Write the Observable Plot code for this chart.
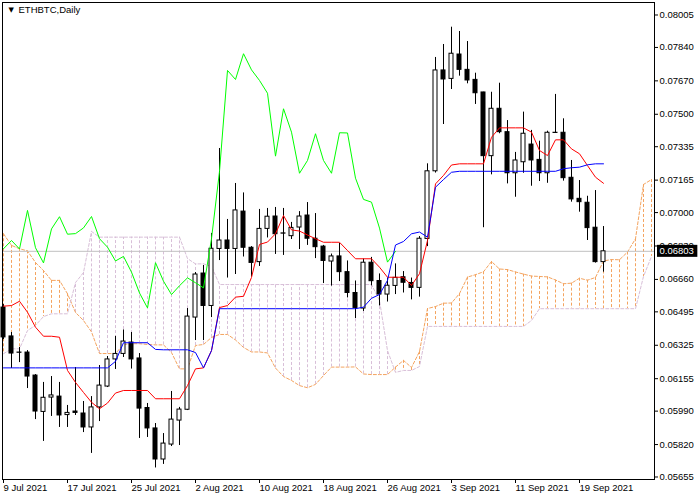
<!DOCTYPE html>
<html>
<head>
<meta charset="utf-8">
<script src="https://cdn.jsdelivr.net/npm/d3@7"></script>
<script src="https://cdn.jsdelivr.net/npm/@observablehq/plot@0.6"></script>
<style>
  html, body { margin: 0; padding: 0; background: #ffffff; }
  #chart { width: 700px; height: 500px; }
</style>
</head>
<body>
<div id="chart"></div>
<script>
// ETHBTC daily candles, 9 Jul 2021 .. 22 Sep 2021 (bar index 0..75)
const opens = [0.06517,0.06370,0.06288,0.06288,0.06171,0.05986,0.06059,0.06064,0.05970,0.05988,
  0.05978,0.05907,0.06009,0.06115,0.06253,0.06281,0.06339,0.06258,0.06006,0.05902,
  0.05744,0.05820,0.05942,0.05997,0.06466,0.06690,0.06525,0.06815,0.06858,0.06815,
  0.07005,0.06821,0.06748,0.06917,0.06980,0.06894,0.06880,0.06924,0.06985,0.06867,
  0.06827,0.06751,0.06777,0.06697,0.06591,0.06512,0.06745,0.06652,0.06583,0.06627,
  0.06671,0.06642,0.06617,0.06866,0.07210,0.07723,0.07680,0.07804,0.07726,0.07675,
  0.07611,0.07287,0.07528,0.07409,0.07200,0.07256,0.07346,0.07268,0.07200,0.07406,
  0.07406,0.07177,0.07070,0.07050,0.06923,0.06748];
const highs = [0.06532,0.06390,0.06314,0.06298,0.06176,0.06136,0.06166,0.06136,0.06019,0.06212,
  0.06039,0.06064,0.06222,0.06268,0.06370,0.06403,0.06390,0.06283,0.06029,0.05927,
  0.05876,0.06090,0.06009,0.06512,0.06695,0.06731,0.06894,0.07326,0.06965,0.07148,
  0.07100,0.06827,0.07016,0.07021,0.07026,0.07021,0.06950,0.07005,0.07051,0.06995,
  0.06833,0.06789,0.06843,0.06754,0.06652,0.06764,0.06772,0.06688,0.06667,0.06739,
  0.06700,0.06667,0.06878,0.07248,0.07789,0.07855,0.07943,0.07921,0.07870,0.07709,
  0.07612,0.07612,0.07658,0.07468,0.07306,0.07511,0.07418,0.07363,0.07414,0.07601,
  0.07477,0.07265,0.07163,0.07083,0.07112,0.06929];
const lows = [0.06354,0.06207,0.06237,0.06105,0.05947,0.05836,0.05963,0.05907,0.05907,0.05968,
  0.05881,0.05775,0.05937,0.06110,0.06202,0.06263,0.06204,0.05851,0.05856,0.05701,
  0.05719,0.05810,0.05815,0.05993,0.06349,0.06349,0.06466,0.06756,0.06667,0.06685,
  0.06774,0.06672,0.06726,0.06871,0.06787,0.06782,0.06863,0.06812,0.06833,0.06766,
  0.06639,0.06626,0.06649,0.06566,0.06461,0.06497,0.06627,0.06525,0.06545,0.06583,
  0.06591,0.06556,0.06570,0.06827,0.07201,0.07448,0.07626,0.07694,0.07655,0.07550,
  0.06923,0.07192,0.07401,0.07146,0.07078,0.07200,0.07134,0.07158,0.07149,0.07403,
  0.07160,0.07053,0.07002,0.06858,0.06743,0.06697];
const closes = [0.06365,0.06283,0.06287,0.06166,0.05988,0.06058,0.06070,0.05968,0.05981,0.05981,
  0.05907,0.06009,0.06120,0.06253,0.06281,0.06344,0.06253,0.06003,0.05902,0.05744,
  0.05825,0.05947,0.05998,0.06471,0.06685,0.06525,0.06816,0.06858,0.06815,0.07011,
  0.06821,0.06744,0.06917,0.06979,0.06890,0.06893,0.06922,0.06980,0.06867,0.06824,
  0.06754,0.06777,0.06697,0.06591,0.06515,0.06745,0.06651,0.06583,0.06628,0.06668,
  0.06643,0.06617,0.06867,0.07210,0.07723,0.07677,0.07808,0.07726,0.07672,0.07607,
  0.07287,0.07528,0.07409,0.07200,0.07265,0.07401,0.07265,0.07200,0.07406,0.07405,
  0.07175,0.07067,0.07053,0.06921,0.06748,0.06803];

// Ichimoku lines
const tenkan = [0.06524,0.06527,0.06549,0.06493,0.06417,0.06371,0.06371,0.06366,0.06197,0.06136,
  0.06085,0.06035,0.06002,0.06031,0.06082,0.06095,0.06095,0.06095,0.06095,0.06053,
  0.06053,0.06053,0.06053,0.06120,0.06205,0.06210,0.06298,0.06517,0.06527,0.06570,
  0.06574,0.06670,0.06838,0.06850,0.06892,0.06985,0.06912,0.06906,0.06886,0.06867,
  0.06849,0.06849,0.06849,0.06807,0.06765,0.06765,0.06765,0.06722,0.06671,0.06671,
  0.06671,0.06629,0.06689,0.06858,0.07146,0.07189,0.07242,0.07248,0.07248,0.07248,
  0.07248,0.07383,0.07431,0.07431,0.07431,0.07431,0.07409,0.07316,0.07290,0.07370,
  0.07370,0.07324,0.07299,0.07239,0.07180,0.07149];
const kijun = [0.06210,0.06210,0.06210,0.06210,0.06210,0.06210,0.06210,0.06210,0.06210,0.06210,
  0.06210,0.06210,0.06210,0.06210,0.06243,0.06338,0.06338,0.06338,0.06338,0.06304,
  0.06302,0.06302,0.06302,0.06302,0.06288,0.06210,0.06298,0.06511,0.06511,0.06511,
  0.06511,0.06511,0.06511,0.06511,0.06511,0.06511,0.06511,0.06511,0.06511,0.06511,
  0.06511,0.06511,0.06511,0.06511,0.06511,0.06519,0.06564,0.06583,0.06655,0.06835,
  0.06853,0.06892,0.06901,0.06875,0.07129,0.07168,0.07205,0.07210,0.07210,0.07210,
  0.07210,0.07210,0.07210,0.07210,0.07210,0.07210,0.07210,0.07210,0.07210,0.07210,
  0.07223,0.07228,0.07231,0.07243,0.07248,0.07248];
const senkouA = [0.06892,0.06833,0.06816,0.06805,0.06746,0.06705,0.06655,0.06655,0.06587,0.06492,
  0.06451,0.06393,0.06283,0.06283,0.06283,0.06329,0.06333,0.06333,0.06329,0.06327,
  0.06327,0.06288,0.06205,0.06205,0.06324,0.06329,0.06365,0.06380,0.06380,0.06352,
  0.06314,0.06291,0.06291,0.06286,0.06209,0.06166,0.06146,0.06120,0.06109,0.06126,
  0.06171,0.06214,0.06214,0.06214,0.06215,0.06179,0.06176,0.06176,0.06176,0.06214,
  0.06248,0.06212,0.06293,0.06512,0.06522,0.06539,0.06540,0.06588,0.06672,0.06684,
  0.06699,0.06751,0.06713,0.06710,0.06698,0.06687,0.06677,0.06675,0.06673,0.06657,
  0.06638,0.06641,0.06666,0.06656,0.06670,0.06754,0.06761,0.06760,0.06799,0.06867,
  0.07143,0.07168];
const senkouB = [0.06282,0.06307,0.06307,0.06400,0.06426,0.06471,0.06485,0.06485,0.06485,0.06644,
  0.06695,0.06904,0.06875,0.06875,0.06875,0.06875,0.06875,0.06875,0.06875,0.06875,
  0.06875,0.06875,0.06875,0.06766,0.06739,0.06739,0.06726,0.06634,0.06634,0.06634,
  0.06634,0.06634,0.06634,0.06634,0.06634,0.06634,0.06634,0.06634,0.06634,0.06634,
  0.06634,0.06634,0.06634,0.06634,0.06634,0.06634,0.06634,0.06553,0.06298,0.06187,
  0.06197,0.06197,0.06217,0.06421,0.06421,0.06421,0.06421,0.06421,0.06421,0.06421,
  0.06421,0.06421,0.06421,0.06421,0.06421,0.06421,0.06451,0.06511,0.06511,0.06511,
  0.06511,0.06511,0.06511,0.06511,0.06511,0.06511,0.06511,0.06511,0.06511,0.06511,
  0.06675,0.06777];

const chikouShift = 26;
const lastPrice = 0.06803;

// Axis ticks
const yTicks = [0.08005,0.07840,0.07670,0.07500,0.07335,0.07165,0.07000,0.06830,
  0.06660,0.06495,0.06325,0.06155,0.05990,0.05820,0.05655];
const xTickBars = [0, 8, 16, 24, 32, 40, 48, 56, 64, 72];
const xTickLabels = ["9 Jul 2021","17 Jul 2021","25 Jul 2021","2 Aug 2021","10 Aug 2021",
  "18 Aug 2021","26 Aug 2021","3 Sep 2021","11 Sep 2021","19 Sep 2021"];
const title = "ETHBTC,Daily";

// Tables built from the arrays
const candles = opens.map((o, i) => ({i, o, h: highs[i], l: lows[i], c: closes[i]}));
const cloud = senkouA.map((a, i) => ({i, a, b: senkouB[i]}));
const tenkanData = tenkan.map((v, i) => ({i, v}));
const kijunData = kijun.map((v, i) => ({i, v}));
const chikouData = closes.slice(chikouShift).map((v, i) => ({i, v}));

const ORANGE = "#F4A460", THISTLE = "#D8BFD8";

const chart = Plot.plot({
  width: 700,
  height: 500,
  marginLeft: 2,
  marginRight: 46,
  marginTop: 2,
  marginBottom: 21,
  style: {fontFamily: "'Liberation Sans', Arial, sans-serif", fontSize: "9.5px", background: "#ffffff", color: "#000000"},
  x: {domain: [-0.125, 81.375], label: null},
  y: {domain: [0.0564228, 0.0806858], label: null},
  color: {type: "identity"},
  marks: [
    // Kumo hatch
    Plot.ruleX(cloud, {x: "i", y1: "a", y2: "b", stroke: d => d.a >= d.b ? ORANGE : THISTLE, strokeDasharray: "3,2", strokeWidth: 1}),
    Plot.line(cloud, {x: "i", y: "a", stroke: ORANGE, strokeDasharray: "3,2", strokeWidth: 1}),
    Plot.line(cloud, {x: "i", y: "b", stroke: THISTLE, strokeDasharray: "3,2", strokeWidth: 1}),
    // Current price line
    Plot.ruleY([lastPrice], {stroke: "#C0C0C0", strokeWidth: 1}),
    // Candles
    Plot.ruleX(candles, {x: "i", y1: "l", y2: "h", stroke: "black", strokeWidth: 1}),
    Plot.rect(candles, {x1: d => d.i - 0.25, x2: d => d.i + 0.25, y1: "o", y2: "c",
      fill: d => d.c >= d.o ? "white" : "black", stroke: "black", strokeWidth: 1}),
    // Ichimoku lines
    Plot.line(chikouData, {x: "i", y: "v", stroke: "#00FF00", strokeWidth: 1}),
    Plot.line(tenkanData, {x: "i", y: "v", stroke: "#FF0000", strokeWidth: 1}),
    Plot.line(kijunData, {x: "i", y: "v", stroke: "#0000FF", strokeWidth: 1}),
    Plot.frame({stroke: "black", strokeWidth: 1}),
    // Axes
    Plot.axisY({anchor: "right", ticks: yTicks, tickFormat: d => d.toFixed(5), tickSize: 3, tickPadding: 2, label: null, stroke: "black", fill: "black"}),
    Plot.axisX({anchor: "bottom", ticks: xTickBars, tickFormat: d => xTickLabels[xTickBars.indexOf(d)],
      tickSize: 4, tickPadding: 1, textAnchor: "start", dx: 0, label: null, stroke: "black", fill: "black"}),
    // Title
    Plot.text([title], {frameAnchor: "top-left", text: d => "\u25BC", dx: 6, dy: 5, lineAnchor: "top", fontSize: 7, fontFamily: "DejaVu Sans", fill: "black"}),
    Plot.text([title], {frameAnchor: "top-left", text: d => d, dx: 16, dy: 4, lineAnchor: "top", textAnchor: "start", fontSize: 9.5, fill: "black"}),
    // Last price label
    Plot.text([lastPrice], {y: d => d, frameAnchor: "right", dx: 5, textAnchor: "start", text: d => d.toFixed(5), fill: "white"})
  ]
});

document.getElementById("chart").appendChild(chart);

// Black box behind the last-price label
const priceText = Array.from(chart.querySelectorAll("text")).find(e => e.textContent === lastPrice.toFixed(5));
if (priceText) {
  const bb = priceText.getBBox();
  const r = document.createElementNS("http://www.w3.org/2000/svg", "rect");
  r.setAttribute("x", bb.x - 2.5);
  r.setAttribute("y", bb.y - 0.5);
  r.setAttribute("width", bb.width + 6);
  r.setAttribute("height", bb.height + 1);
  r.setAttribute("fill", "black");
  if (priceText.getAttribute("transform")) r.setAttribute("transform", priceText.getAttribute("transform"));
  priceText.parentNode.insertBefore(r, priceText);
}
</script>
</body>
</html>
